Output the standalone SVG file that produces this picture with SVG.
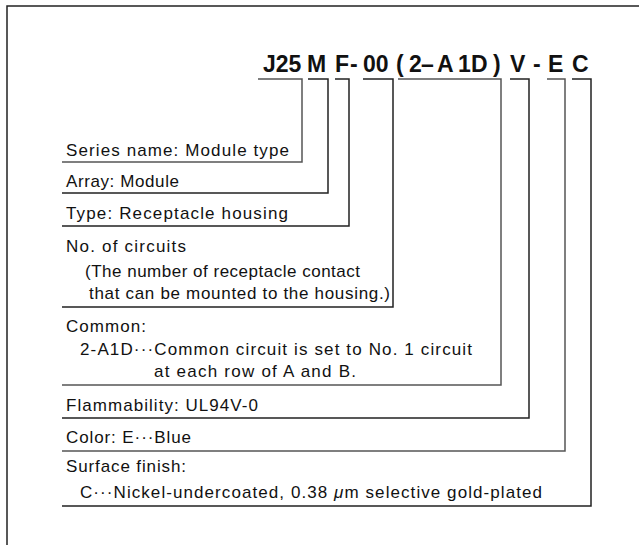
<svg xmlns="http://www.w3.org/2000/svg" width="639" height="545" viewBox="0 0 639 545">
<style>
.frame{fill:none;stroke:#222;stroke-width:1.5}
.br{fill:none;stroke:#555;stroke-width:1.5}
.dk{stroke:#222}
.title{font-family:"Liberation Sans",Arial,sans-serif;font-weight:bold;font-size:23px;fill:#111}
.t{font-family:"Liberation Sans",Arial,sans-serif;font-size:17px;fill:#111}
</style>
<rect width="639" height="545" fill="#fff"/>
<rect class="frame" x="7" y="6" width="700" height="600"/>
<g id="title">
<text class="title" y="72"><tspan x="263">J25</tspan><tspan x="307">M</tspan><tspan x="335">F</tspan><tspan x="350">-</tspan><tspan x="363">00</tspan><tspan x="396">(</tspan><tspan x="409">2</tspan><tspan x="421">–</tspan><tspan x="437">A</tspan><tspan x="458">1</tspan><tspan x="471">D</tspan><tspan x="493">)</tspan><tspan x="510">V</tspan><tspan x="533">-</tspan><tspan x="548">E</tspan><tspan x="572">C</tspan></text>
</g>
<g id="connectors">
<path class="br" d="M258,79H302V162H62"/>
<path class="br dk" d="M308,79H328V193H62"/>
<path class="br dk" d="M335,79H349V226H62"/>
<path class="br dk" d="M363,79H393V307H62"/>
<path class="br" d="M398,79H501V385H62"/>
<path class="br dk" d="M510,79H529V418H62"/>
<path class="br" d="M547,79H565V451H62"/>
<path class="br dk" d="M572,79H591V506H62"/>
</g>
<g id="series"><text class="t" x="66" y="156" textLength="223" lengthAdjust="spacing">Series name: Module type</text></g>
<g id="array"><text class="t" x="66" y="187" textLength="113" lengthAdjust="spacing">Array: Module</text></g>
<g id="type"><text class="t" x="66" y="219" textLength="222" lengthAdjust="spacing">Type: Receptacle housing</text></g>
<g id="circuits">
<text class="t" x="66" y="252" textLength="120" lengthAdjust="spacing">No. of circuits</text>
<text class="t" x="85" y="277" textLength="275" lengthAdjust="spacing">(The number of receptacle contact</text>
<text class="t" x="89" y="299" textLength="301" lengthAdjust="spacing">that can be mounted to the housing.)</text>
</g>
<g id="common">
<text class="t" x="66" y="332" textLength="80" lengthAdjust="spacing">Common:</text>
<text class="t" x="80" y="355" textLength="392" lengthAdjust="spacing">2-A1D···Common circuit is set to No. 1 circuit</text>
<text class="t" x="154" y="377" textLength="202" lengthAdjust="spacing">at each row of A and B.</text>
</g>
<g id="flammability"><text class="t" x="66" y="411" textLength="192" lengthAdjust="spacing">Flammability: UL94V-0</text></g>
<g id="color"><text class="t" x="66" y="443" textLength="125" lengthAdjust="spacing">Color: E···Blue</text></g>
<g id="surface">
<text class="t" x="66" y="472" textLength="120" lengthAdjust="spacing">Surface finish:</text>
<text class="t" x="80" y="498" textLength="462" lengthAdjust="spacing">C···Nickel-undercoated, 0.38 <tspan font-style="italic">μ</tspan>m selective gold-plated</text>
</g>
</svg>
